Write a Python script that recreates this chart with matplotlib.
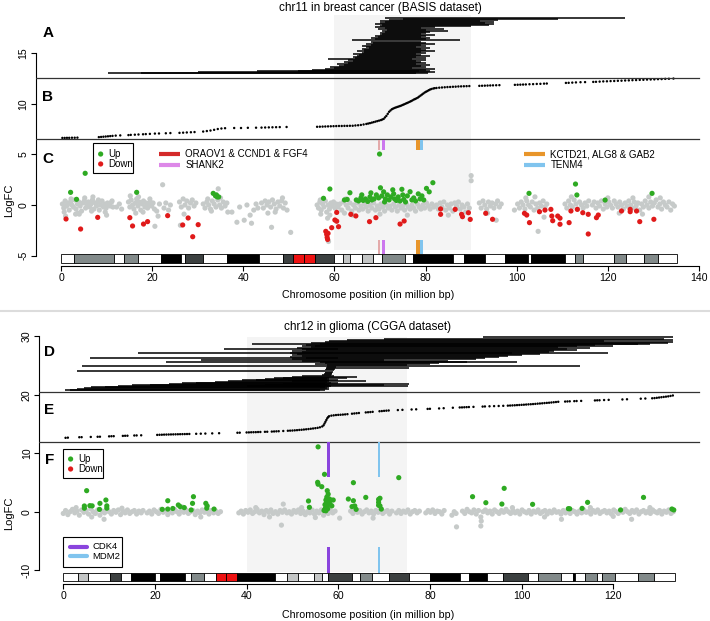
import matplotlib
matplotlib.use('Agg')
import matplotlib.pyplot as plt
from matplotlib.patches import Rectangle
from matplotlib.lines import Line2D
import numpy as np

plt.rcParams['font.family'] = ['Liberation Sans', 'DejaVu Sans']
plt.rcParams['axes.unicode_minus'] = False

# ---------------- chr11 (breast cancer, BASIS) ----------------
# panel A: segments (height, start Mb, end Mb)
seg_a = [
    (13.00, 10.3, 78.0), (13.06, 17.5, 80.5), (13.12, 30.0, 82.0), (13.18, 43.0, 78.5), (13.24, 52.0, 81.0),
    (13.30, 55.0, 80.0), (13.40, 58.0, 82.0), (13.50, 60.0, 77.0), (13.60, 59.0, 80.0), (13.70, 61.0, 79.0),
    (13.80, 62.0, 81.0), (13.90, 60.5, 78.0), (14.00, 63.0, 80.0), (14.10, 62.0, 79.0), (14.20, 64.0, 78.0),
    (14.30, 63.0, 80.0), (14.40, 58.5, 77.0), (14.50, 64.5, 80.0), (14.60, 64.0, 78.0), (14.70, 65.0, 81.0),
    (14.80, 65.5, 79.0), (14.90, 64.0, 78.0), (15.00, 66.0, 80.0), (15.10, 66.5, 79.0), (15.20, 65.0, 82.0),
    (15.30, 66.5, 80.0), (15.40, 66.0, 79.0), (15.50, 67.5, 81.0), (15.60, 67.0, 78.0), (15.70, 66.0, 80.0),
    (15.80, 68.0, 79.0), (15.90, 67.0, 82.0), (16.00, 68.5, 80.0), (16.10, 68.0, 79.0), (16.25, 63.8, 87.6),
    (16.35, 69.0, 80.0), (16.45, 68.0, 81.0), (16.55, 69.5, 79.0), (16.65, 69.0, 80.0), (16.75, 70.0, 82.0),
    (16.85, 70.5, 79.0), (16.95, 70.0, 80.0), (17.05, 71.0, 81.0), (17.15, 70.5, 85.0), (17.25, 71.5, 80.0),
    (17.35, 69.5, 84.0), (17.45, 71.0, 79.0), (17.55, 69.0, 82.0), (17.65, 70.0, 90.0), (17.75, 70.5, 94.0),
    (17.85, 69.0, 95.0), (17.95, 70.0, 93.0), (18.05, 71.0, 95.0), (18.15, 70.0, 92.0), (18.25, 72.0, 96.0),
    (18.35, 75.0, 109.0), (18.50, 71.0, 123.8),
]

# panel B: gene position vs ordered index
pts_b = [
    (0.3, 6.62), (0.8, 6.62), (1.3, 6.63), (1.8, 6.63), (2.4, 6.64), (3.0, 6.64), (3.6, 6.65),
    (8.3, 6.70), (8.8, 6.72), (9.3, 6.74), (9.8, 6.76), (10.3, 6.78), (10.8, 6.80), (11.3, 6.82), (12.0, 6.85),
    (13.0, 6.87), (14.8, 6.90), (15.3, 6.92), (16.2, 6.94), (17.0, 6.96), (18.0, 6.98), (18.6, 7.00), (19.5, 7.02),
    (20.6, 7.05), (21.5, 7.06), (23.0, 7.08), (24.0, 7.10), (26.0, 7.12), (26.8, 7.14), (27.6, 7.16), (28.5, 7.18),
    (29.3, 7.20), (31.2, 7.25), (32.0, 7.30), (32.8, 7.35), (33.6, 7.42), (34.4, 7.50), (35.2, 7.55), (36.0, 7.58),
    (38.0, 7.60), (39.5, 7.60), (41.0, 7.62), (42.8, 7.63), (44.0, 7.64), (44.8, 7.65), (45.6, 7.66), (46.4, 7.67),
    (47.2, 7.68), (48.0, 7.69), (49.5, 7.70),
    (56.2, 7.72), (56.8, 7.73), (57.4, 7.74), (58.0, 7.75), (58.6, 7.76), (59.2, 7.77), (59.8, 7.78), (60.4, 7.79),
    (61.0, 7.80), (61.6, 7.80), (62.2, 7.81), (62.8, 7.81), (63.4, 7.82), (64.0, 7.82), (64.6, 7.85), (65.2, 7.87),
    (65.8, 7.9), (66.4, 7.95), (67.0, 8.0), (67.4, 8.04), (67.8, 8.08), (68.2, 8.13), (68.6, 8.18), (69.0, 8.23),
    (69.4, 8.28), (69.8, 8.33), (70.2, 8.38), (70.5, 8.44), (70.8, 8.5), (71.1, 8.65), (71.4, 8.8), (71.7, 9.0),
    (72.0, 9.2), (72.3, 9.33), (72.6, 9.45), (72.9, 9.52), (73.2, 9.58), (73.5, 9.63), (73.8, 9.68), (74.1, 9.72),
    (74.4, 9.77), (74.7, 9.82), (75.0, 9.88), (75.3, 9.94), (75.6, 10.0), (75.9, 10.06), (76.2, 10.12),
    (76.5, 10.18), (76.8, 10.25), (77.1, 10.32), (77.4, 10.4), (77.7, 10.46), (78.0, 10.53), (78.3, 10.6),
    (78.6, 10.7), (78.9, 10.8), (79.2, 10.9), (79.5, 11.0), (79.8, 11.1), (80.1, 11.18), (80.4, 11.25),
    (80.7, 11.33), (81.0, 11.4), (81.3, 11.45), (81.7, 11.5), (82.0, 11.53), (82.4, 11.55), (83.0, 11.58),
    (83.6, 11.6), (84.2, 11.62), (84.8, 11.64), (85.4, 11.65), (86.0, 11.67), (86.6, 11.68), (87.2, 11.7),
    (87.8, 11.71), (88.4, 11.72), (89.0, 11.73), (89.6, 11.74),
    (91.8, 11.76), (92.4, 11.77), (93.0, 11.78), (93.6, 11.79), (94.2, 11.80), (94.8, 11.81), (95.5, 11.82),
    (96.2, 11.83), (99.6, 11.86), (100.2, 11.87), (100.8, 11.88), (101.4, 11.89), (102.0, 11.90), (102.8, 11.92),
    (103.6, 11.93), (104.4, 11.95), (105.2, 11.96), (106.0, 11.98), (106.6, 11.99), (110.8, 12.05), (111.4, 12.06),
    (112.2, 12.08), (113.0, 12.10), (114.0, 12.12), (115.0, 12.13), (116.8, 12.15), (117.4, 12.16), (118.2, 12.18),
    (119.0, 12.20), (119.8, 12.21), (120.6, 12.23), (121.4, 12.24), (122.2, 12.26), (123.0, 12.27), (123.8, 12.29),
    (124.6, 12.30), (125.4, 12.32), (126.2, 12.33), (127.0, 12.35), (127.8, 12.36), (128.6, 12.38), (129.4, 12.39),
    (130.2, 12.40), (131.0, 12.42), (131.8, 12.43), (132.6, 12.45), (133.4, 12.46), (134.4, 12.48),
]

# panel C: logFC of genes (position Mb, logFC)
gray11 = [
    (0.3, 0.1), (0.6, -0.3), (0.9, 0.4), (1.2, -0.1), (1.5, 0.2), (1.8, -0.5), (2.1, 0.3), (2.4, 0.0), (2.7, -0.2), (3.0, 0.5),
    (3.3, -0.4), (3.6, 0.1), (3.9, 0.3), (4.2, -0.1), (4.5, -0.6), (4.8, 0.2), (5.1, 0.4), (5.4, -0.3), (5.7, 0.0), (6.0, 0.3),
    (6.3, -0.2), (6.6, 0.1), (6.9, 0.5), (7.2, -0.4), (7.5, 0.2), (7.8, -0.1), (8.1, 0.3), (8.4, -0.5), (8.7, 0.0), (9.0, 0.4),
    (9.3, -0.2), (9.6, 0.1), (9.9, -0.3), (10.2, 0.2), (10.5, 0.0), (10.8, -0.1), (11.1, 0.3), (11.4, -0.2), (0.7, -0.7), (2.2, 0.6),
    (3.7, -0.8), (5.2, 0.7), (6.7, -0.6), (8.2, 0.5), (9.7, -0.7), (11.2, 0.4), (1.4, 0.0), (4.0, -0.9), (7.0, 0.8), (10.0, -1.0),
    (1.0, -1.1), (3.2, -0.9), (12.2, -0.2), (12.8, 0.1), (13.3, -0.4),
    (14.8, 0.3), (15.1, -0.2), (15.4, 0.5), (15.7, 0.0), (16.0, -0.4), (16.3, 0.2), (16.6, 0.6), (16.9, -0.1), (17.2, 0.3), (17.5, -0.5),
    (17.8, 0.1), (18.1, 0.4), (18.4, -0.2), (18.7, 0.2), (19.0, -0.3), (19.3, 0.0), (19.6, 0.3), (19.9, -0.1), (20.2, 0.2), (20.5, -0.4),
    (15.2, 0.9), (16.4, -0.8), (18.0, -0.7), (19.5, 0.6), (17.0, 0.8),
    (20.6, -2.1), (21.3, -1.1), (21.0, -0.6), (21.6, 0.1), (22.3, 2.0), (22.6, -0.3), (23.0, 0.2), (23.6, -0.5), (24.0, 0.0),
    (26.0, 0.3), (26.4, -0.2), (26.8, 0.6), (27.2, 0.0), (27.6, 0.4), (28.0, -0.3), (28.4, 0.2), (28.8, 0.5), (29.2, -0.1), (29.6, 0.2),
    (26.2, -2.0), (27.0, -0.9),
    (31.2, 0.1), (31.6, -0.3), (32.0, 0.3), (32.4, 0.0), (32.8, -0.4), (33.2, 0.4), (33.6, 0.1), (34.0, -0.2), (34.4, 0.5), (34.8, 0.0),
    (35.2, -0.3), (35.6, 0.3), (36.0, -0.1), (36.4, 0.2), (32.2, 0.6), (33.0, -0.6), (35.0, 0.7), (34.5, 1.6), (36.6, -0.7),
    (37.5, -0.7), (38.6, -1.7), (39.2, -0.2), (40.2, -1.5), (40.8, 0.0), (41.5, -1.0), (41.8, -1.8), (42.3, -0.5), (42.8, 0.1), (43.2, -0.3),
    (44.0, 0.2), (44.4, -0.3), (44.8, 0.4), (45.2, 0.0), (45.4, -0.8), (45.6, 0.3), (46.0, -0.2), (46.4, 0.5), (46.8, 0.1), (47.2, -0.4),
    (47.6, 0.3), (48.0, -0.1), (48.4, 0.4), (48.8, -0.3), (49.2, 0.2), (49.6, -0.5), (46.2, -2.2), (50.4, -2.7), (48.6, 0.7), (47.0, -0.7),
    (56.2, 0.0), (56.5, -0.3), (56.8, 0.3), (57.1, -0.5), (57.4, 0.1), (57.7, -0.2), (58.0, 0.4), (58.3, -0.7), (58.6, 0.0), (58.9, -0.4),
    (59.2, 0.2), (59.5, -0.1), (59.8, 0.3), (60.1, -0.3), (60.4, 0.1), (57.0, -0.9), (58.5, -1.3), (58.7, -3.6), (59.0, -1.0), (56.9, 0.5),
    (60.8, -0.2), (61.2, 0.1), (61.6, -0.5), (62.0, 0.3), (62.2, -0.8), (62.6, 0.0), (63.0, -0.3), (63.4, 0.2), (63.8, -0.6), (64.2, 0.0),
    (64.6, -0.3), (65.0, 0.2), (65.4, -0.5), (65.8, -0.1), (66.2, -0.4), (66.6, 0.1), (67.0, -0.2), (67.4, -0.6), (67.8, 0.0), (68.2, -0.3),
    (68.6, 0.2), (69.0, -0.5), (69.4, -0.1), (69.8, -0.4), (70.2, 0.1), (70.6, -0.2), (71.0, -0.6), (71.4, 0.0), (71.8, -0.3), (72.2, -0.1),
    (72.6, -0.5), (73.0, 0.1), (73.4, -0.2), (73.8, -0.6), (74.2, 0.0), (74.6, -0.3), (75.0, -0.1), (75.4, -0.5), (75.8, 0.1), (76.2, -0.2),
    (76.6, -0.4), (77.0, 0.0), (77.4, -0.3), (77.8, -0.6), (78.2, 0.1), (78.6, -0.2), (79.0, -0.4), (79.4, 0.0), (79.8, -0.3), (80.2, 0.2),
    (80.6, -0.1), (81.0, -0.4), (81.4, 0.1), (81.8, -0.2), (64.0, -1.0), (70.0, -0.9), (76.0, -1.0), (62.5, 0.6),
    (82.4, 0.0), (82.8, -0.4), (83.2, 0.2), (83.6, -0.2), (84.0, 0.3), (84.4, -0.5), (84.8, 0.0), (85.2, -0.3), (85.6, 0.1), (86.0, -0.6),
    (86.4, 0.2), (86.8, -0.1), (87.2, 0.3), (87.6, -0.4), (88.0, 0.0), (88.4, -0.2), (88.8, -0.7), (89.2, 0.1), (89.6, -0.3), (85.0, -1.0),
    (90.0, 2.9), (90.0, 2.4),
    (91.8, 0.2), (92.2, -0.3), (92.6, 0.4), (93.0, 0.0), (93.4, -0.4), (93.8, 0.3), (94.2, -0.1), (94.6, 0.2), (95.0, -0.3), (95.4, 0.1),
    (95.8, 0.4), (96.2, -0.2), (96.6, 0.1), (95.5, -1.5), (93.6, -0.8),
    (99.5, -0.5), (100.2, 0.1), (100.6, -0.3), (101.0, 0.3), (101.4, 0.0), (101.8, -0.4), (102.2, 0.4), (102.6, 0.0), (103.0, -0.2), (103.4, 0.3),
    (103.8, -0.5), (104.2, 0.1), (104.6, -0.3), (105.0, 0.2), (105.4, -0.1), (105.8, 0.4), (106.2, -0.2), (106.6, 0.1), (104.7, -2.6), (106.0, -1.2),
    (102.0, 0.7), (104.0, 0.8),
    (110.6, 0.1), (111.0, -0.3), (111.4, 0.4), (111.8, 0.0), (112.2, -0.2), (112.6, 0.5), (113.0, 0.1), (113.4, -0.4), (113.8, 0.3), (114.2, 0.0),
    (114.6, -0.3), (115.0, 0.2), (115.4, -0.1), (115.8, 0.4), (112.0, 0.8),
    (116.6, 0.0), (117.0, 0.3), (117.4, -0.3), (117.8, 0.2), (118.2, -0.1), (118.6, 0.4), (119.0, -0.4), (119.4, 0.1), (119.8, -0.2), (120.2, 0.3),
    (120.6, 0.0), (121.0, -0.3), (121.4, 0.4), (121.8, 0.1), (122.2, -0.2), (122.6, 0.3), (123.0, 0.0), (123.4, -0.4), (123.8, 0.2), (124.2, -0.1),
    (124.6, 0.4), (125.0, 0.0), (125.4, -0.3), (125.8, 0.3), (126.2, -0.1), (126.6, 0.2), (127.0, -0.5), (127.4, 0.1), (127.8, -0.2), (128.2, 0.4),
    (128.6, 0.0), (129.0, -0.3), (129.4, 0.3), (129.8, -0.1), (130.2, 0.2), (130.6, 0.5), (131.0, -0.2), (131.4, 0.1), (131.8, -0.4), (132.2, 0.3),
    (132.6, 0.0), (133.0, -0.2), (133.4, 0.3), (133.8, -0.5), (134.2, 0.1), (134.6, -0.1), (127.6, -0.9), (129.0, 0.8), (131.5, 0.7), (120.0, 0.7),
    (122.5, -0.8), (125.5, 0.7),
]
up11 = [
    (2.1, 1.25), (3.4, 0.56), (5.3, 3.13), (16.6, 1.25), (33.4, 1.15), (33.9, 0.9), (34.3, 0.8), (34.1, 1.0), (34.6, 0.8),
    (57.6, 0.66), (59.0, 1.58), (62.2, 0.5), (62.8, 0.55), (63.4, 1.21), (69.9, 5.03),
    (64.8, 0.5), (65.3, 0.4), (65.8, 0.7), (66.3, 0.45), (66.8, 0.6), (67.3, 0.35), (67.8, 0.8), (68.2, 0.5), (68.7, 0.6), (69.2, 1.0),
    (69.7, 0.7), (70.1, 1.7), (70.4, 0.9), (70.8, 1.3), (71.2, 0.6), (71.6, 1.0), (72.0, 0.5), (72.4, 0.8), (72.8, 1.5), (73.2, 0.6),
    (73.6, 0.45), (74.0, 0.8), (74.4, 0.4), (74.8, 1.55), (75.2, 0.55), (75.6, 0.3), (76.0, 0.9), (76.6, 1.31), (77.0, 0.5), (77.4, 0.7),
    (77.8, 0.4), (78.4, 1.1), (78.8, 0.6), (79.2, 0.9), (79.6, 0.5), (80.2, 1.64), (80.8, 1.3), (81.6, 2.2), (66.0, 1.0), (68.0, 1.2),
    (73.0, 1.1), (71.0, 0.3), (75.0, 1.0),
    (102.7, 1.15), (112.9, 2.07), (113.2, 0.99), (119.4, 0.49), (129.7, 1.15),
]
down11 = [
    (1.1, -1.38), (4.3, -2.37), (8.05, -1.22), (15.1, -1.25), (15.7, -2.07), (18.1, -1.88), (19.0, -1.64), (23.4, -1.05),
    (26.7, -1.97), (27.9, -1.28), (28.9, -3.13), (30.1, -1.94),
    (58.1, -2.6), (58.3, -2.9), (58.4, -3.2), (58.6, -2.8), (58.5, -3.4), (59.4, -2.24), (60.1, -1.48), (60.5, -1.6),
    (60.9, -2.14), (60.5, -0.73), (63.6, -0.92), (64.7, -1.08), (67.7, -1.64), (69.1, -1.25), (74.4, -1.88), (75.3, -1.58),
    (83.3, -0.39), (83.3, -0.92), (86.5, -0.43), (87.9, -0.92), (88.1, -1.15), (89.4, -0.76), (89.8, -1.42),
    (93.2, -0.82), (94.7, -1.41), (101.7, -0.82), (102.2, -0.99), (102.8, -1.74), (105.0, -0.66), (106.2, -0.5), (107.5, -0.43),
    (107.7, -1.09), (107.9, -1.55), (109.0, -1.09), (109.5, -1.3), (109.5, -1.9), (111.5, -1.74), (111.9, -0.59), (113.3, -0.43),
    (114.5, -0.76), (115.7, -0.92), (115.7, -2.86), (117.5, -1.25), (117.9, -0.99), (123.0, -0.59), (124.9, -0.43), (124.9, -0.66),
    (126.3, -0.59), (127.0, -1.64), (130.1, -1.41),
]
genes11 = [
    ('ORAOV1 & CCND1 & FGF4', 69.6, 69.9, '#d42a2a', '#e3aaaa'),
    ('SHANK2', 70.5, 71.2, '#dd88e8', '#cc77ee'),
    ('KCTD21, ALG8 & GAB2', 78.0, 78.8, '#e8952a', '#e8952a'),
    ('TENM4', 78.8, 79.4, '#80c4ee', '#80c4ee'),
]
bands11 = [
    (0, 2.8, 'w'), (2.8, 11.7, 'g'), (11.7, 13.8, 'w'), (13.8, 16.8, 'g'), (16.8, 22, 'w'), (22, 26.3, 'k'),
    (26.3, 27.2, 'w'), (27.2, 31.1, 'd'), (31.1, 36.4, 'w'), (36.4, 43.5, 'k'), (43.5, 48.8, 'w'), (48.8, 51, 'd'),
    (51, 53.4, 'r'), (53.4, 55.7, 'r'), (55.7, 60, 'd'), (60, 61.8, 'w'), (61.8, 63.4, 'l'), (63.4, 66, 'w'),
    (66, 68.5, 'l'), (68.5, 70.5, 'w'), (70.5, 75.5, 'g'), (75.5, 77.3, 'w'), (77.3, 86.1, 'k'), (86.1, 88.5, 'w'),
    (88.5, 93, 'k'), (93, 97.4, 'w'), (97.4, 102.5, 'k'), (102.5, 103.1, 'w'), (103.1, 110.7, 'k'), (110.7, 112.8, 'w'),
    (112.8, 114.6, 'g'), (114.6, 121.4, 'w'), (121.4, 124, 'g'), (124, 128, 'w'), (128, 131.1, 'g'), (131.1, 135.1, 'w'),
]

# ---------------- chr12 (glioma, CGGA) ----------------
seg_d = [
    (20.80, 0.4, 56.0), (20.92, 1.5, 57.0), (21.04, 3.0, 58.0), (21.16, 4.5, 57.5), (21.28, 6.0, 58.0),
    (21.40, 9.0, 57.0), (21.52, 12.0, 58.5), (21.64, 15.0, 57.5), (21.76, 19.0, 58.0), (21.88, 23.0, 57.0),
    (22.00, 26.0, 58.5), (22.12, 29.0, 60.0), (22.24, 33.0, 57.5), (22.36, 36.0, 58.0), (22.48, 39.0, 60.0),
    (22.60, 42.0, 58.0), (22.72, 44.0, 57.5), (22.84, 46.0, 62.0), (22.96, 48.0, 58.0), (23.08, 50.0, 64.0),
    (23.20, 52.0, 59.0), (21.70, 44.0, 70.0), (21.95, 48.0, 75.5), (22.30, 50.0, 66.0), (21.45, 40.0, 75.2),
    (23.40, 56.5, 58.5), (23.60, 56.8, 58.6), (23.80, 57.0, 58.7), (24.00, 57.0, 58.8), (24.20, 57.2, 59.0),
    (24.40, 57.3, 59.2), (24.60, 57.4, 75.5), (24.80, 57.5, 59.5),
    (24.05, 3.0, 57.0), (25.00, 4.0, 112.7), (25.60, 22.4, 99.0), (26.30, 5.8, 60.0), (27.10, 16.3, 118.8),
    (27.90, 35.0, 60.0), (28.80, 41.2, 125.5),
    (25.10, 57.5, 75.0), (25.30, 55.0, 80.0), (25.45, 57.0, 82.0), (25.70, 56.0, 88.0), (25.85, 52.0, 84.0),
    (26.00, 30.0, 70.0), (26.15, 50.0, 90.0), (26.40, 53.0, 92.0), (26.55, 49.5, 95.0), (26.70, 52.0, 97.0),
    (26.85, 50.0, 100.0), (27.00, 51.0, 104.0), (27.25, 49.5, 98.0), (27.40, 52.0, 106.0), (27.55, 50.0, 107.0),
    (27.70, 53.0, 112.0), (27.85, 52.0, 110.0), (28.00, 51.0, 115.0), (28.15, 54.0, 108.0), (28.30, 52.0, 112.0),
    (28.45, 55.0, 120.0), (28.60, 53.0, 116.0), (28.75, 56.0, 128.0), (28.95, 54.0, 132.0), (29.10, 57.0, 133.0),
    (29.25, 58.0, 118.0), (29.40, 62.0, 133.0), (29.60, 70.0, 131.0), (29.85, 91.6, 133.0),
]
pts_e = [
    (0.5, 12.65), (1.0, 12.68), (3.5, 12.75), (4.0, 12.76), (6.0, 12.80), (7.5, 12.83), (8.0, 12.84), (10.0, 12.90),
    (10.5, 12.92), (11.0, 12.93), (13.0, 12.98), (13.5, 13.00), (14.0, 13.01), (15.5, 13.05), (16.0, 13.06), (17.0, 13.08),
    (20.5, 13.15), (21.0, 13.17), (21.5, 13.18), (22.0, 13.20), (22.5, 13.21), (23.0, 13.22), (23.5, 13.23), (24.0, 13.24),
    (24.5, 13.25), (25.0, 13.26), (25.5, 13.27), (26.0, 13.28), (26.5, 13.29), (27.0, 13.30), (27.5, 13.31), (29.0, 13.34),
    (30.0, 13.36), (31.0, 13.38), (32.5, 13.41), (34.0, 13.44),
    (38.0, 13.52), (38.5, 13.53), (40.0, 13.57), (40.5, 13.58), (41.0, 13.60), (41.5, 13.61), (42.0, 13.62), (42.5, 13.64),
    (43.0, 13.65), (44.0, 13.68), (44.5, 13.69), (45.5, 13.72), (46.0, 13.74), (46.5, 13.76), (47.0, 13.78), (48.0, 13.82),
    (49.0, 13.86), (49.5, 13.88), (50.0, 13.90), (50.5, 13.93), (51.0, 13.96), (51.5, 14.00), (52.0, 14.03), (52.5, 14.07),
    (53.0, 14.11), (53.5, 14.15), (54.0, 14.20), (54.5, 14.25), (55.0, 14.30), (55.5, 14.36), (56.0, 14.45), (56.5, 14.60),
    (56.8, 14.80), (57.0, 15.10), (57.2, 15.40), (57.4, 15.70), (57.6, 16.00), (57.8, 16.20), (58.0, 16.35), (58.5, 16.45),
    (59.0, 16.50), (59.5, 16.55), (60.0, 16.58), (60.5, 16.60), (61.0, 16.63), (61.5, 16.66), (62.0, 16.70), (63.0, 16.78),
    (63.5, 16.82), (64.0, 16.86), (64.5, 16.90), (66.0, 17.00), (66.5, 17.03), (67.0, 17.06), (67.5, 17.10), (69.0, 17.20),
    (69.5, 17.23), (70.0, 17.27), (70.5, 17.30), (71.0, 17.33),
    (73.0, 17.40), (74.0, 17.44), (76.0, 17.50), (77.0, 17.53), (79.5, 17.60), (80.0, 17.62), (82.0, 17.68), (83.0, 17.72),
    (85.0, 17.80), (86.5, 17.85), (87.0, 17.86), (87.5, 17.88), (88.0, 17.90), (88.5, 17.92), (89.5, 17.95), (91.5, 18.00),
    (92.0, 18.02), (93.0, 18.05), (94.0, 18.08), (95.0, 18.10), (96.0, 18.13), (97.0, 18.16), (97.5, 18.18), (98.0, 18.20),
    (98.5, 18.22), (99.0, 18.25), (99.5, 18.27), (100.0, 18.30), (100.5, 18.32), (101.0, 18.35), (101.5, 18.38), (102.0, 18.40),
    (102.5, 18.43), (103.0, 18.46), (103.5, 18.50), (104.0, 18.53), (104.5, 18.56), (105.0, 18.60), (105.5, 18.63), (106.0, 18.66),
    (106.5, 18.70), (107.0, 18.74), (107.5, 18.78), (108.0, 18.82), (109.5, 18.86), (110.0, 18.88), (110.5, 18.90), (111.5, 18.93),
    (112.0, 18.95), (113.0, 18.97), (116.0, 19.05), (116.5, 19.07), (117.0, 19.08), (118.0, 19.12), (119.0, 19.15), (122.0, 19.22),
    (123.0, 19.25), (126.0, 19.35), (127.0, 19.38), (128.5, 19.42), (129.0, 19.45), (129.5, 19.50), (130.0, 19.55), (130.5, 19.60),
    (131.0, 19.65), (131.5, 19.70), (132.0, 19.75), (132.5, 19.82), (133.0, 19.90),
]
gray12 = [
    (0.0, -0.3), (0.5, 0.2), (1.0, -0.5), (1.5, 0.0), (2.0, 0.4), (2.5, -0.2), (3.0, 0.1), (3.5, -0.6), (4.0, 0.3), (4.5, -0.1),
    (5.0, 0.2), (5.5, -0.4), (6.0, 0.5), (6.5, 0.0), (7.0, -0.3), (7.5, 0.3), (8.0, -0.6), (8.5, 0.1), (8.9, -1.3), (9.0, -0.2),
    (9.5, 0.4), (10.0, 0.0), (10.5, -0.4), (11.0, 0.2), (11.5, -0.1), (12.0, 0.3), (12.5, -0.5), (13.0, 0.1), (13.5, -0.2), (14.0, 0.3),
    (14.5, -0.3), (15.0, 0.0), (15.5, 0.2), (16.0, -0.4), (16.5, 0.1), (17.0, -0.2), (17.4, 0.2), (2.8, 0.7), (6.2, -0.9), (12.8, 0.6),
    (18.3, -0.2), (18.8, 0.1), (19.3, -0.4), (19.8, 0.3), (20.3, 0.0), (20.8, -0.3), (21.3, 0.4), (21.8, -0.1), (22.3, 0.2), (22.8, -0.5),
    (23.3, 0.1), (23.8, -0.2), (24.3, 0.4), (24.8, 0.0), (25.3, -0.4), (25.8, 0.2), (26.3, -0.1), (26.8, 0.3), (27.3, -0.3), (27.8, 0.0),
    (28.3, 0.2), (28.8, -0.5), (29.3, 0.1), (29.8, -0.2), (30.3, 0.3), (30.8, -0.1), (31.3, 0.0), (31.8, -0.4), (32.3, 0.2), (32.8, -0.2),
    (33.3, 0.1), (33.8, -0.3), (34.3, 0.0), (26.0, 0.8), (30.0, -0.9),
    (38.3, -0.2), (38.8, 0.1), (39.3, -0.4), (39.8, 0.2), (40.3, -0.1), (40.8, 0.3), (41.3, -0.3), (41.8, 0.0), (42.3, 0.4), (42.8, -0.2),
    (43.3, 0.1), (43.8, -0.5), (44.3, 0.2), (44.8, -0.1), (45.3, 0.3), (45.8, -0.3), (46.3, 0.0), (46.8, -0.4), (47.3, 0.2), (47.6, -2.3),
    (48.0, 1.3), (47.8, -0.1), (48.3, 0.3), (48.8, -0.2), (49.3, 0.0), (49.8, -0.4), (50.3, 0.2), (50.8, -0.1), (51.3, 0.3), (51.8, -0.3),
    (52.3, 0.1), (52.8, -0.5), (53.3, 0.0), (53.8, -0.2), (54.3, 0.3), (54.8, -0.4), (55.3, 0.1), (55.8, -0.2), (56.3, 0.3), (56.8, -0.6),
    (57.3, 0.0), (57.8, -0.3), (58.3, 0.2), (58.8, -0.2), (59.3, 0.1), (60.3, -1.1), (52.0, 0.7), (45.0, -0.9), (55.0, -1.0), (42.0, 0.7),
    (62.7, 0.1), (63.2, -0.3), (63.7, 0.3), (64.2, -0.1), (64.7, 0.2), (65.2, -0.4), (65.7, 0.0), (66.2, 0.3), (66.7, -0.2), (67.2, 0.1),
    (67.6, -1.1), (67.7, -0.4), (68.2, 0.2), (68.7, -0.1), (69.2, 0.3), (69.7, -0.3), (70.2, 0.0), (70.7, 0.2), (71.2, -0.4), (71.7, 0.1),
    (72.7, -0.2), (73.2, 0.2), (73.7, -0.3), (74.2, 0.1), (74.7, -0.1), (75.2, 0.3), (75.7, -0.4), (76.2, 0.0), (76.7, 0.2), (77.2, -0.2),
    (77.7, 0.1),
    (79.1, -0.2), (79.6, 0.2), (80.1, -0.1), (80.6, 0.3), (81.1, -0.3), (81.6, 0.1), (82.1, 0.0), (82.6, -0.4), (83.1, 0.2),
    (84.8, -0.6), (85.3, 0.0), (85.8, -2.6), (85.7, -0.3),
    (87.1, 0.1), (87.6, -0.3), (88.1, 0.4), (88.6, 0.0), (89.1, -0.2), (89.6, 0.3), (90.1, -0.4), (90.6, 0.2), (91.1, -0.9), (91.1, -2.45),
    (91.2, -1.6), (91.6, 0.0), (92.1, 0.3), (92.6, -0.2), (93.1, 0.1), (93.6, -0.4), (94.1, 0.3), (94.6, 0.0), (95.1, -0.3), (95.6, 0.2),
    (96.1, -0.1), (96.6, 0.4), (97.1, 0.0), (97.6, -0.3), (98.1, 0.2), (98.6, -0.2), (99.1, 0.1), (99.6, -0.4), (100.1, 0.3), (100.6, 0.0),
    (101.1, -0.2), (101.6, 0.2), (102.1, -0.4), (102.6, 0.1), (103.1, -0.1), (103.6, 0.3), (104.1, -0.3), (104.6, 0.0), (105.1, 0.2), (105.6, -0.4),
    (106.1, 0.1), (106.6, -0.2), (107.1, 0.3), (107.6, -0.1), (108.1, 0.0), (108.7, -1.3), (108.6, -0.4), (109.1, 0.2), (109.6, -0.2), (110.1, 0.1),
    (110.6, -0.3), (111.1, 0.2), (111.6, 0.0), (112.1, -0.4), (112.6, 0.1), (113.1, -0.2), (113.6, 0.3), (114.1, -0.1), (114.6, 0.0), (115.1, -0.4),
    (115.6, 0.2), (116.1, -0.1), (116.6, 0.3), (117.1, -0.3), (117.6, 0.0), (118.1, 0.2), (118.6, -0.2), (119.1, 0.1), (119.6, -0.4), (120.1, 0.3),
    (120.6, 0.0), (121.1, -0.3), (121.6, 0.2), (122.1, -0.1), (122.6, 0.4), (123.1, 0.0), (123.6, -0.3), (124.0, -1.3), (124.1, 0.2), (124.6, -0.1),
    (125.1, 0.3), (125.6, -0.4), (126.1, 0.0), (126.6, 0.2), (127.1, -0.2), (127.6, 0.1), (128.1, -0.3), (128.6, 0.3), (129.1, 0.0), (129.6, -0.2),
    (130.1, 0.2), (130.6, -0.4), (131.1, 0.1), (131.6, -0.1), (132.1, 0.3), (132.6, -0.3), (133.1, 0.0), (98.0, 0.7), (105.0, -0.9), (115.0, 0.7),
    (120.0, -0.8), (128.0, 0.7),
]
up12 = [
    (4.6, 0.98), (4.6, 0.6), (5.1, 3.6), (5.8, 1.03), (6.3, 1.0), (7.9, 0.4), (8.0, 1.43), (9.3, 2.0), (9.5, 1.0), (9.5, 0.6),
    (21.6, 0.4), (22.8, 1.88), (22.8, 0.45), (23.9, 0.55), (25.1, 1.15), (25.5, 0.87), (26.4, 0.7), (27.9, 0.3), (28.2, 1.43), (28.4, 2.57),
    (31.1, 1.43), (31.4, 0.98), (31.3, 0.6), (32.9, 0.45),
    (53.5, 1.83), (53.7, 0.75), (55.6, 11.1), (55.5, 5.03), (55.6, 4.7), (56.4, 4.28), (57.0, 6.4),
    (57.6, 3.6), (57.8, 3.0), (57.5, 2.5), (57.3, 2.0), (57.9, 1.8), (57.4, 1.5), (57.6, 1.0), (57.2, 0.6), (57.0, 0.3), (57.7, 0.5),
    (58.0, 2.2), (58.2, 1.3), (58.4, 2.0), (57.1, 1.2), (56.9, 0.2), (57.3, 0.15), (57.8, 1.5), (58.6, 1.0), (58.9, 2.0),
    (62.2, 2.17), (63.3, 4.97), (63.3, 1.88), (63.0, 0.87), (63.6, 0.98), (63.9, 0.4), (66.0, 2.45),
    (68.8, 2.1), (69.1, 2.3), (68.8, 1.6), (69.1, 1.0), (69.4, 0.45), (68.8, 1.1), (73.2, 5.83),
    (89.3, 2.57), (92.2, 1.54), (95.7, 1.31), (96.2, 4.0), (102.4, 1.26), (110.2, 0.52), (110.5, 0.5), (113.2, 0.57),
    (114.4, 1.6), (121.6, 0.3), (126.6, 2.45), (132.8, 0.46), (133.2, 0.3),
]
genes12 = [
    ('CDK4', 57.5, 58.1, '#8a44dd'),
    ('MDM2', 68.7, 69.2, '#80c4ee'),
]
bands12 = [
    (0, 3.3, 'w'), (3.3, 5.5, 'l'), (5.5, 10.1, 'w'), (10.1, 12.7, 'd'), (12.7, 14.7, 'w'), (14.7, 20, 'k'),
    (20, 21.1, 'w'), (21.1, 26.5, 'k'), (26.5, 27.8, 'w'), (27.8, 30.7, 'g'), (30.7, 33.3, 'w'), (33.3, 35.6, 'r'),
    (35.6, 37.8, 'r'), (37.8, 46.2, 'k'), (46.2, 48.9, 'w'), (48.9, 51.3, 'l'), (51.3, 54.6, 'w'), (54.6, 56.4, 'l'),
    (56.4, 57.8, 'w'), (57.8, 62.9, 'd'), (62.9, 64.7, 'w'), (64.7, 67.3, 'g'), (67.3, 71.1, 'w'), (71.1, 75.5, 'd'),
    (75.5, 80, 'w'), (80, 86.5, 'k'), (86.5, 88.6, 'w'), (88.6, 92.4, 'k'), (92.4, 95.9, 'w'), (95.9, 101.3, 'd'),
    (101.3, 103.6, 'w'), (103.6, 108.5, 'g'), (108.5, 111.2, 'w'), (111.2, 111.6, 'k'), (111.6, 113.8, 'w'),
    (113.8, 116.4, 'g'), (116.4, 117.6, 'w'), (117.6, 120.4, 'g'), (120.4, 125.5, 'w'), (125.5, 128.8, 'g'), (128.8, 133.5, 'w'),
]

band_col = {'w': 'white', 'l': '#c4c6c6', 'g': '#828a8a', 'd': '#3c4040', 'k': 'black', 'r': '#ee1111'}
GRAY = '#c6cac9'
GREEN = '#2eaa22'
RED = '#e01a1a'
PT = 14  # marker area for LogFC dots

W, H = 710, 621
fig = plt.figure(figsize=(7.1, 6.21), dpi=100)


def add_axes_px(left, top, right, bottom):
    return fig.add_axes([left / W, 1 - bottom / H, (right - left) / W, (bottom - top) / H])


def ftext(x, y, s, **kw):
    fig.text(x / W, 1 - y / H, s, **kw)


def style_axes(ax, xlim, ylim, ybounds, yticks, xbounds, xticks):
    ax.set_xlim(xlim)
    ax.set_ylim(ylim)
    ax.patch.set_alpha(0)
    ax.spines['top'].set_visible(False)
    ax.spines['right'].set_visible(False)
    ax.spines['left'].set_bounds(*ybounds)
    ax.spines['bottom'].set_bounds(*xbounds)
    for s in ['left', 'bottom']:
        ax.spines[s].set_linewidth(0.8)
    ax.set_yticks(yticks)
    ax.set_xticks(xticks)
    ax.tick_params(direction='out', length=3.5, width=0.8, labelsize=7.6, pad=1.5)
    ax.tick_params(axis='y', labelrotation=90)
    for t in ax.get_yticklabels():
        t.set_verticalalignment('center')


def draw_ideogram(ax, bands, y0, y1):
    for a, b, c in bands:
        ax.add_patch(Rectangle((a, y0), b - a, y1 - y0, facecolor=band_col[c], edgecolor='black', lw=0.6, zorder=3))


def scatter_pts(ax, pts, color, s, z):
    arr = np.array(pts)
    ax.scatter(arr[:, 0], arr[:, 1], s=s, color=color, edgecolors='none', zorder=z)


def draw_segments(ax, segs):
    for y, a, b in segs:
        ax.plot([a, b], [y, y], color='black', lw=1.1, solid_capstyle='butt', zorder=2)


# ================= top: chr11 =================
ax1 = add_axes_px(35.5, 12, 724.5, 266)
style_axes(ax1, (-5.6, 145.6), (-6.02, 19.05), (-5, 15), [-5, 0, 5, 10, 15], (0, 140), range(0, 141, 20))
ax1.add_patch(Rectangle((60, -4.45), 30, 23.2, facecolor='#f4f4f4', edgecolor='none', zorder=0))
draw_segments(ax1, seg_a)
b = np.array(pts_b)
ax1.scatter(b[:, 0], b[:, 1], s=3, color='black', edgecolors='none', zorder=2)
for yy in (12.5, 6.5):
    ax1.plot([-5.6, 140], [yy, yy], color='#333333', lw=0.9, zorder=3)
scatter_pts(ax1, gray11, GRAY, PT, 2)
scatter_pts(ax1, up11, GREEN, PT, 3)
scatter_pts(ax1, down11, RED, PT, 3)
for name, a, bb, lc, bc in genes11:
    ax1.add_patch(Rectangle((a, 5.43), bb - a, 0.99, facecolor=bc, edgecolor='none', zorder=3))
    ax1.add_patch(Rectangle((a, -4.84), bb - a, 1.34, facecolor=bc, edgecolor='none', zorder=3))
draw_ideogram(ax1, bands11, -5.76, -4.87)
for lab, x, y in [('A', -2.9, 16.95), ('B', -2.9, 10.7), ('C', -2.9, 4.54)]:
    ax1.text(x, y, lab, fontsize=11, fontweight='bold', ha='center', va='center')
# Up/Down legend
ax1.add_patch(Rectangle((6.96, 3.13), 8.78, 2.96, facecolor='white', edgecolor='black', lw=0.8, zorder=4))
ax1.scatter([8.7], [5.03], s=PT, color=GREEN, edgecolors='none', zorder=5)
ax1.scatter([8.7], [4.05], s=PT, color=RED, edgecolors='none', zorder=5)
ax1.text(10.3, 5.03, 'Up', fontsize=7, va='center', zorder=5)
ax1.text(10.3, 4.05, 'Down', fontsize=7, va='center', zorder=5)
# gene legends
for i, (name, a, bb, lc, bc) in enumerate(genes11):
    x0 = 21.5 if i < 2 else 101.6
    y = 5.0 if i % 2 == 0 else 3.95
    ax1.plot([x0, x0 + 4.6], [y, y], color=lc, lw=3, solid_capstyle='butt', zorder=4)
    ax1.text(x0 + 5.8, y, name, fontsize=7, va='center', zorder=4)

ftext(380.5, 8, 'chr11 in breast cancer (BASIS dataset)', ha='center', va='center', fontsize=8.5)
ftext(368, 295, 'Chromosome position (in million bp)', ha='center', va='center', fontsize=7.7)
ftext(9, 200, 'LogFC', ha='center', va='center', rotation=90, fontsize=8)

fig.add_artist(Line2D([0, 1], [1 - 311 / H] * 2, color='#dcdcdc', lw=1.5))

# ================= bottom: chr12 =================
ax2 = add_axes_px(38.8, 332, 710, 584)
style_axes(ax2, (-5.34, (710 - 63.3) / 4.583), (-12.38, 30.77), (-10, 30), [-10, 0, 10, 20, 30], (0, 120), range(0, 121, 20))
ax2.add_patch(Rectangle((40, -10.27), 35, 40.24, facecolor='#f4f4f4', edgecolor='none', zorder=0))
draw_segments(ax2, seg_d)
e = np.array(pts_e)
ax2.scatter(e[:, 0], e[:, 1], s=3, color='black', edgecolors='none', zorder=2)
for yy in (20.5, 12.0):
    ax2.plot([-5.34, 138.8], [yy, yy], color='#333333', lw=0.9, zorder=3)
scatter_pts(ax2, gray12, GRAY, PT, 2)
scatter_pts(ax2, up12, GREEN, PT, 3)
for name, a, bb, c in genes12:
    ax2.add_patch(Rectangle((a, 6.0), bb - a, 6.0, facecolor=c, edgecolor='none', zorder=3))
    ax2.add_patch(Rectangle((a, -10.55), bb - a, 4.55, facecolor=c, edgecolor='none', zorder=3))
draw_ideogram(ax2, bands12, -11.8, -10.55)
for lab, x, y in [('D', -3.05, 27.4), ('E', -3.05, 17.4), ('F', -3.05, 8.85)]:
    ax2.text(x, y, lab, fontsize=11, fontweight='bold', ha='center', va='center')
ax2.add_patch(Rectangle((0, 5.72), 8.73, 5.02, facecolor='white', edgecolor='black', lw=0.8, zorder=4))
ax2.scatter([1.6], [9.02], s=PT, color=GREEN, edgecolors='none', zorder=5)
ax2.scatter([1.6], [7.31], s=PT, color=RED, edgecolors='none', zorder=5)
ax2.text(3.27, 9.02, 'Up', fontsize=7, va='center', zorder=5)
ax2.text(3.27, 7.31, 'Down', fontsize=7, va='center', zorder=5)
ax2.add_patch(Rectangle((0, -9.42), 12.74, 5.14, facecolor='white', edgecolor='black', lw=0.8, zorder=4))
for (name, a, bb, c), y in zip(genes12, (-5.99, -7.59)):
    ax2.plot([1.46, 5.24], [y, y], color=c, lw=3, solid_capstyle='round', zorder=5)
    ax2.text(6.4, y, name, fontsize=6.8, va='center', zorder=5)

ftext(367.5, 327, 'chr12 in glioma (CGGA dataset)', ha='center', va='center', fontsize=8.5)
ftext(368.5, 615, 'Chromosome position (in million bp)', ha='center', va='center', fontsize=7.7)
ftext(9, 513, 'LogFC', ha='center', va='center', rotation=90, fontsize=8)

fig.savefig('out.png', dpi=100)
